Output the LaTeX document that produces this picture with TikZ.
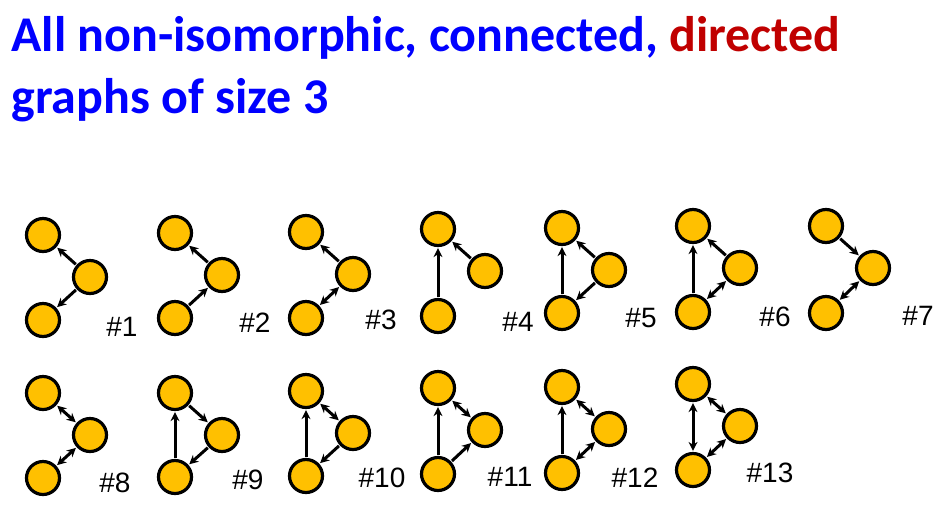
\documentclass[tikz,border=0pt]{standalone}
\usepackage{fontspec}
\setmainfont{Liberation Sans}
\newfontfamily\titlefont{Carlito}
\usetikzlibrary{arrows.meta}
\definecolor{nodeY}{RGB}{255,192,0}
\definecolor{titleB}{RGB}{0,0,255}
\definecolor{titleR}{RGB}{192,0,0}
\begin{document}
\begin{tikzpicture}[x=1pt,y=-1pt,
  v/.style={circle,draw=black,fill=nodeY,line width=3.2pt,minimum size=33pt,inner sep=0pt},
  e/.style={line width=3pt,-{Stealth[length=9pt,width=9pt]},shorten >=1pt,shorten <=1pt},
  b/.style={line width=3pt,{Stealth[length=9pt,width=9pt]}-{Stealth[length=9pt,width=9pt]},shorten >=1pt,shorten <=1pt},
  lab/.style={font=\fontsize{28}{30}\selectfont,anchor=center}]
\useasboundingbox (0,0) rectangle (947,507);
\node[anchor=west,font=\titlefont\bfseries\fontsize{50}{56}\selectfont,text=titleB] (t1) at (8,38) {All non-isomorphic, connected, \textcolor{titleR}{directed}};
\node[anchor=west,font=\titlefont\bfseries\fontsize{50}{56}\selectfont,text=titleB] (t2) at (8,100) {graphs of size 3};
\def\G#1#2#3#4#5#6{%
  \node[v] (#1a) at (#2,#3) {};
  \node[v] (#1b) at (#2+47,#3+42) {};
  \node[v] (#1c) at (#2,#3+#4) {};
  \node[lab] (#1l) at (#5,#6) {\##1};
}
\G{1}{43}{235}{85}{122}{327}
\G{2}{175}{233}{85}{255}{323}
\G{3}{306}{232}{86}{381}{320}
\G{4}{438}{229}{87}{518}{322}
\G{5}{562}{228}{85}{641}{318}
\G{6}{693}{226}{86}{775}{317}
\G{7}{826}{226}{87}{918}{316}
\G{8}{43}{393}{85}{115}{483}
\G{9}{175}{393}{84}{248}{480}
\G{10}{306}{391}{85}{382}{478}
\G{11}{438}{388}{86}{510}{477}
\G{12}{562}{387}{86}{635}{478}
\G{13}{693}{384}{86}{770}{473}
\draw[e] (1b) -- (1a); \draw[e] (1b) -- (1c);
\draw[e] (2b) -- (2a); \draw[e] (2c) -- (2b);
\draw[e] (3b) -- (3a); \draw[b] (3c) -- (3b);
\draw[e] (4c) -- (4a); \draw[e] (4b) -- (4a);
\draw[e] (5c) -- (5a); \draw[e] (5b) -- (5a); \draw[e] (5b) -- (5c);
\draw[e] (6c) -- (6a); \draw[e] (6b) -- (6a); \draw[b] (6c) -- (6b);
\draw[e] (7a) -- (7b); \draw[b] (7c) -- (7b);
\draw[b] (8a) -- (8b); \draw[b] (8c) -- (8b);
\draw[e] (9c) -- (9a); \draw[e] (9a) -- (9b); \draw[e] (9b) -- (9c);
\draw[e] (10c) -- (10a); \draw[b] (10a) -- (10b); \draw[e] (10b) -- (10c);
\draw[e] (11c) -- (11a); \draw[b] (11a) -- (11b); \draw[e] (11c) -- (11b);
\draw[e] (12c) -- (12a); \draw[b] (12a) -- (12b); \draw[b] (12c) -- (12b);
\draw[b] (13c) -- (13a); \draw[b] (13a) -- (13b); \draw[b] (13c) -- (13b);
\end{tikzpicture}
\end{document}
